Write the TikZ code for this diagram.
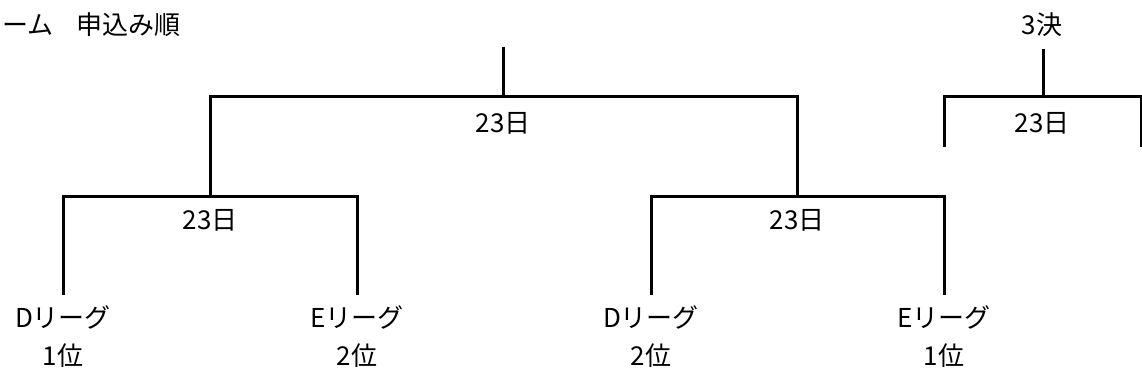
\documentclass[tikz,border=0pt]{standalone}
\usepackage{fontspec}
\newfontfamily\jpfont{Noto Sans CJK JP}
\begin{document}
\begin{tikzpicture}[x=1pt,y=-1pt,line width=3pt] % Tournament bracket
         \tikzset{lbl/.style={font=\jpfont\fontsize{26}{30}\selectfont,inner sep=0pt}}
         \useasboundingbox (0,0) rectangle (1142,385);
         % joints of the main bracket
         \coordinate (fin) at (503,47);
         \coordinate (finj) at (503,97);
         \coordinate (semL) at (210,97);
         \coordinate (semR) at (797,97);
         \coordinate (semLb) at (210,196);
         \coordinate (semRb) at (797,196);
         \coordinate (qa) at (63,196);
         \coordinate (qb) at (357,196);
         \coordinate (qc) at (651,196);
         \coordinate (qd) at (944,196);
         \coordinate (qab) at (63,295);
         \coordinate (qbb) at (357,295);
         \coordinate (qcb) at (651,295);
         \coordinate (qdb) at (944,295);
         % third place bracket
         \coordinate (thr) at (1043,49);
         \coordinate (thrj) at (1043,97);
         \coordinate (thL) at (944,97);
         \coordinate (thR) at (1141,97);
         \coordinate (thLb) at (944,147);
         \coordinate (thRb) at (1141,147);
         \draw (fin) -- (finj);
         \draw (semLb) -- (semL) -- (semR) -- (semRb);
         \draw (qab) -- (qa) -- (qb) -- (qbb);
         \draw (qcb) -- (qc) -- (qd) -- (qdb);
         \draw (thr) -- (thrj);
         \draw (thLb) -- (thL) -- (thR) -- (thRb);
         % labels
         \node[lbl,anchor=west] (team) at (1,25) {ーム};
         \node[lbl] (order) at (128,25) {申込み順};
         \node[lbl] (third) at (1042,25) {3決};
         \node[lbl] (dfin) at (503,123) {23日};
         \node[lbl] (dthr) at (1042,123) {23日};
         \node[lbl] (dsemL) at (210,220) {23日};
         \node[lbl] (dsemR) at (797,220) {23日};
         \node[lbl] (t1) at (63,317) {Dリーグ};
         \node[lbl] (t2) at (357,317) {Eリーグ};
         \node[lbl] (t3) at (651,317) {Dリーグ};
         \node[lbl] (t4) at (944,317) {Eリーグ};
         \node[lbl] (r1) at (63,356) {1位};
         \node[lbl] (r2) at (357,356) {2位};
         \node[lbl] (r3) at (651,356) {2位};
         \node[lbl] (r4) at (944,356) {1位};
      \end{tikzpicture}
\end{document}
